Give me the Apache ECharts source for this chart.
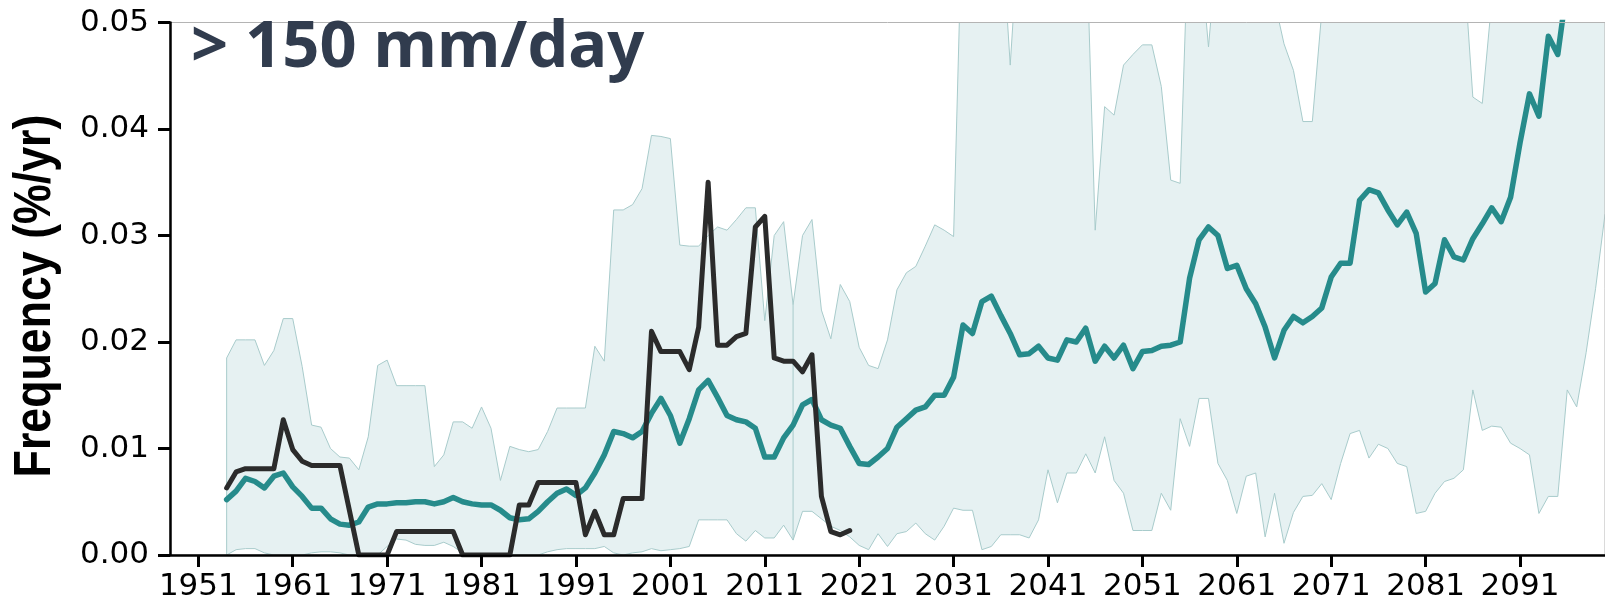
<!DOCTYPE html>
<html>
<head>
<meta charset="utf-8">
<script src="https://cdn.jsdelivr.net/npm/echarts@6/dist/echarts.min.js"></script>
<style>
  html, body { margin: 0; padding: 0; background: #fff; }
  #chart { width: 1605px; height: 606px; }
</style>
</head>
<body>
<div id="chart"></div>
<script>
// Frequency of days above 150 mm/day: observations, model median and model spread.
const tickYears = [1951, 1961, 1971, 1981, 1991, 2001, 2011, 2021, 2031, 2041, 2051, 2061, 2071, 2081, 2091];

const modelStart = 1954;
// the spread is made of a historical part and a projection part that meet here
const projectionStart = 2014;

// model ensemble median, one value per year from 1954
const modelMedian = [
  0.0052, 0.0060, 0.0072, 0.0069, 0.0063, 0.0074, 0.0077, 0.0064, 0.0055, 0.0044, // 1954-1963
  0.0044, 0.0034, 0.0029, 0.0028, 0.0031, 0.0045, 0.0048, 0.0048, 0.0049, 0.0049, // 1964-1973
  0.0050, 0.0050, 0.0048, 0.0050, 0.0054, 0.0050, 0.0048, 0.0047, 0.0047, 0.0042, // 1974-1983
  0.0035, 0.0033, 0.0034, 0.0041, 0.0050, 0.0058, 0.0062, 0.0056, 0.0063, 0.0077, // 1984-1993
  0.0094, 0.0116, 0.0114, 0.0110, 0.0116, 0.0133, 0.0147, 0.0131, 0.0105, 0.0128, // 1994-2003
  0.0155, 0.0164, 0.0148, 0.0131, 0.0127, 0.0125, 0.0119, 0.0092, 0.0092, 0.0110, // 2004-2013
  0.0122, 0.0141, 0.0146, 0.0127, 0.0122, 0.0119, 0.0102, 0.0086, 0.0085, 0.0092, // 2014-2023
  0.0100, 0.0120, 0.0128, 0.0136, 0.0139, 0.0150, 0.0150, 0.0167, 0.0216, 0.0208, // 2024-2033
  0.0238, 0.0243, 0.0225, 0.0208, 0.0188, 0.0189, 0.0196, 0.0185, 0.0183, 0.0202, // 2034-2043
  0.0200, 0.0213, 0.0182, 0.0196, 0.0185, 0.0197, 0.0175, 0.0191, 0.0192, 0.0196, // 2044-2053
  0.0197, 0.0200, 0.0260, 0.0296, 0.0308, 0.0300, 0.0269, 0.0272, 0.0250, 0.0236, // 2054-2063
  0.0214, 0.0185, 0.0211, 0.0224, 0.0218, 0.0224, 0.0232, 0.0261, 0.0274, 0.0274, // 2064-2073
  0.0333, 0.0343, 0.0340, 0.0324, 0.0310, 0.0322, 0.0302, 0.0247, 0.0255, 0.0296, // 2074-2083
  0.0280, 0.0277, 0.0297, 0.0311, 0.0326, 0.0313, 0.0336, 0.0387, 0.0433, 0.0412, // 2084-2093
  0.0487, 0.0470, 0.0535, 0.0560, 0.0580, 0.0600, 0.0620                          // 2094-2100
];

// lower edge of the model spread
const spreadLow = [
  0.0000, 0.0005, 0.0006, 0.0006, 0.0002, 0.0000, 0.0000, 0.0000, 0.0000, 0.0002, // 1954-1963
  0.0003, 0.0003, 0.0002, 0.0000, 0.0000, 0.0000, 0.0000, 0.0008, 0.0015, 0.0014, // 1964-1973
  0.0010, 0.0009, 0.0009, 0.0012, 0.0008, 0.0002, 0.0000, 0.0000, 0.0000, 0.0000, // 1974-1983
  0.0000, 0.0000, 0.0000, 0.0000, 0.0003, 0.0005, 0.0006, 0.0006, 0.0006, 0.0006, // 1984-1993
  0.0008, 0.0002, 0.0000, 0.0002, 0.0003, 0.0006, 0.0004, 0.0005, 0.0006, 0.0008, // 1994-2003
  0.0033, 0.0033, 0.0033, 0.0033, 0.0020, 0.0013, 0.0023, 0.0016, 0.0016, 0.0028, // 2004-2013
  0.0014, 0.0041, 0.0041, 0.0034, 0.0027, 0.0023, 0.0017, 0.0009, 0.0005, 0.0020, // 2014-2023
  0.0008, 0.0020, 0.0022, 0.0030, 0.0020, 0.0014, 0.0027, 0.0044, 0.0042, 0.0042, // 2024-2033
  0.0005, 0.0008, 0.0019, 0.0019, 0.0019, 0.0016, 0.0033, 0.0080, 0.0049, 0.0077, // 2034-2043
  0.0077, 0.0095, 0.0077, 0.0111, 0.0070, 0.0058, 0.0023, 0.0023, 0.0023, 0.0058, // 2044-2053
  0.0042, 0.0128, 0.0102, 0.0147, 0.0147, 0.0086, 0.0070, 0.0039, 0.0074, 0.0077, // 2054-2063
  0.0017, 0.0058, 0.0011, 0.0040, 0.0055, 0.0056, 0.0067, 0.0052, 0.0086, 0.0114, // 2064-2073
  0.0117, 0.0091, 0.0104, 0.0100, 0.0086, 0.0083, 0.0039, 0.0041, 0.0058, 0.0069, // 2074-2083
  0.0072, 0.0080, 0.0155, 0.0117, 0.0121, 0.0120, 0.0105, 0.0100, 0.0094, 0.0039, // 2084-2093
  0.0055, 0.0055, 0.0155, 0.0139, 0.0190, 0.0250, 0.0320                          // 2094-2100
];

// upper edge of the model spread (runs past the top of the plot in places)
const spreadHigh = [
  0.0185, 0.0202, 0.0202, 0.0202, 0.0178, 0.0192, 0.0222, 0.0222, 0.0177, 0.0122, // 1954-1963
  0.0120, 0.0100, 0.0092, 0.0091, 0.0080, 0.0111, 0.0178, 0.0183, 0.0159, 0.0159, // 1964-1973
  0.0159, 0.0159, 0.0083, 0.0094, 0.0125, 0.0125, 0.0119, 0.0139, 0.0119, 0.0070, // 1974-1983
  0.0102, 0.0099, 0.0097, 0.0099, 0.0116, 0.0138, 0.0138, 0.0138, 0.0138, 0.0196, // 1984-1993
  0.0182, 0.0324, 0.0324, 0.0329, 0.0344, 0.0394, 0.0393, 0.0391, 0.0291, 0.0290, // 1994-2003
  0.0290, 0.0300, 0.0308, 0.0305, 0.0315, 0.0326, 0.0326, 0.0220, 0.0300, 0.0313, // 2004-2013
  0.0235, 0.0300, 0.0315, 0.0230, 0.0203, 0.0254, 0.0238, 0.0195, 0.0178, 0.0175, // 2014-2023
  0.0202, 0.0249, 0.0265, 0.0271, 0.0290, 0.0310, 0.0305, 0.0299, 0.0630, 0.0680, // 2024-2033
  0.0700, 0.0680, 0.0600, 0.0460, 0.0600, 0.0650, 0.0680, 0.0700, 0.0680, 0.0650, // 2034-2043
  0.0620, 0.0600, 0.0305, 0.0421, 0.0413, 0.0460, 0.0470, 0.0479, 0.0479, 0.0440, // 2044-2053
  0.0352, 0.0349, 0.0620, 0.0580, 0.0477, 0.0580, 0.0650, 0.0680, 0.0700, 0.0650, // 2054-2063
  0.0600, 0.0520, 0.0480, 0.0455, 0.0407, 0.0407, 0.0510, 0.0600, 0.0650, 0.0700, // 2064-2073
  0.0700, 0.0700, 0.0700, 0.0700, 0.0700, 0.0680, 0.0650, 0.0650, 0.0650, 0.0620, // 2074-2083
  0.0600, 0.0560, 0.0430, 0.0424, 0.0520, 0.0600, 0.0650, 0.0700, 0.0700, 0.0700, // 2084-2093
  0.0700, 0.0700, 0.0700, 0.0700, 0.0700, 0.0700, 0.0700                          // 2094-2100
];

const obsStart = 1954;
// observed frequency, one value per year from 1954
const observed = [
  0.0063, 0.0078, 0.0081, 0.0081, 0.0081, 0.0081, 0.0127, 0.0099, 0.0088, 0.0084, // 1954-1963
  0.0084, 0.0084, 0.0084, 0.0042, 0.0000, 0.0000, 0.0000, 0.0000, 0.0022, 0.0022, // 1964-1973
  0.0022, 0.0022, 0.0022, 0.0022, 0.0022, 0.0000, 0.0000, 0.0000, 0.0000, 0.0000, // 1974-1983
  0.0000, 0.0047, 0.0047, 0.0068, 0.0068, 0.0068, 0.0068, 0.0068, 0.0019, 0.0041, // 1984-1993
  0.0019, 0.0019, 0.0053, 0.0053, 0.0053, 0.0210, 0.0191, 0.0191, 0.0191, 0.0174, // 1994-2003
  0.0214, 0.0350, 0.0197, 0.0197, 0.0205, 0.0208, 0.0308, 0.0318, 0.0185, 0.0182, // 2004-2013
  0.0182, 0.0172, 0.0188, 0.0055, 0.0022, 0.0019, 0.0023                          // 2014-2020
];

const pairs = (start, arr) => arr.map((v, i) => [start + i, v]);
// closing side of a spread piece: a vertical segment from the lower to the upper edge
const sideAt = year => {
  const i = year - modelStart;
  return [[year, spreadLow[i]], [year, spreadHigh[i]]];
};

const TEAL = '#268b8b';
const DARK = '#2b2b2b';
const BAND_FILL = '#e6f1f2';
const BAND_EDGE = '#a8cbcb';

const chart = echarts.init(document.getElementById('chart'), null, { renderer: 'canvas' });

const edgeLine = { color: BAND_EDGE, width: 1 };

chart.setOption({
  animation: false,
  backgroundColor: '#ffffff',
  grid: {
    left: 170, right: -2, top: 22.5, bottom: 51, z: 6,
    show: true, borderColor: '#b4b4b4', borderWidth: 1, backgroundColor: 'transparent'
  },
  xAxis: {
    type: 'value', min: 1948, max: 2100, z: 8,
    splitLine: { show: false },
    axisLine: { lineStyle: { color: '#000', width: 2.5 } },
    axisTick: { customValues: tickYears, length: 12, lineStyle: { color: '#000', width: 3 } },
    axisLabel: {
      customValues: tickYears, margin: 16, color: '#000',
      fontFamily: 'DejaVu Sans', fontSize: 31,
      formatter: v => String(v)
    }
  },
  yAxis: {
    type: 'value', min: 0, max: 0.05, interval: 0.01, z: 8,
    splitLine: { show: false },
    axisLine: { show: true, lineStyle: { color: '#000', width: 2.5 } },
    axisTick: { show: true, length: 12, lineStyle: { color: '#000', width: 3 } },
    axisLabel: {
      margin: 21, color: '#000', fontFamily: 'DejaVu Sans', fontSize: 31,
      formatter: v => v.toFixed(2)
    }
  },
  graphic: [
    {
      type: 'text', left: 191, top: 16, z: 10,
      style: { text: '> 150 mm/day', font: 'bold 65px "Noto Sans"', fill: '#313c4e' }
    },
    {
      type: 'text', x: 36, y: 296, rotation: Math.PI / 2, scaleX: 0.86, z: 10,
      style: {
        text: 'Frequency (%/yr)', font: 'bold 52px "Liberation Sans"',
        fill: '#000', align: 'center', verticalAlign: 'middle'
      }
    }
  ],
  series: [
    {
      // spread: filled from the upper edge down to the axis
      name: 'spread-high', type: 'line', data: pairs(modelStart, spreadHigh),
      symbol: 'none', z: 1, lineStyle: edgeLine,
      areaStyle: { color: BAND_FILL, opacity: 1, origin: 'start' }
    },
    {
      // below the lower edge the plot stays white
      name: 'spread-low', type: 'line', data: pairs(modelStart, spreadLow),
      symbol: 'none', z: 1, lineStyle: edgeLine,
      areaStyle: { color: '#ffffff', opacity: 1, origin: 'start' }
    },
    {
      name: 'spread-side-start', type: 'line', data: sideAt(modelStart),
      symbol: 'none', z: 1, lineStyle: edgeLine
    },
    {
      name: 'spread-side-projection', type: 'line', data: sideAt(projectionStart),
      symbol: 'none', z: 1, lineStyle: edgeLine
    },
    {
      name: 'model median', type: 'line', data: pairs(modelStart, modelMedian),
      symbol: 'none', z: 3,
      lineStyle: { color: TEAL, width: 5.5, cap: 'round', join: 'round' }
    },
    {
      name: 'observed', type: 'line', data: pairs(obsStart, observed),
      symbol: 'none', z: 4,
      lineStyle: { color: DARK, width: 5, cap: 'round', join: 'round' }
    }
  ]
});
</script>
</body>
</html>
